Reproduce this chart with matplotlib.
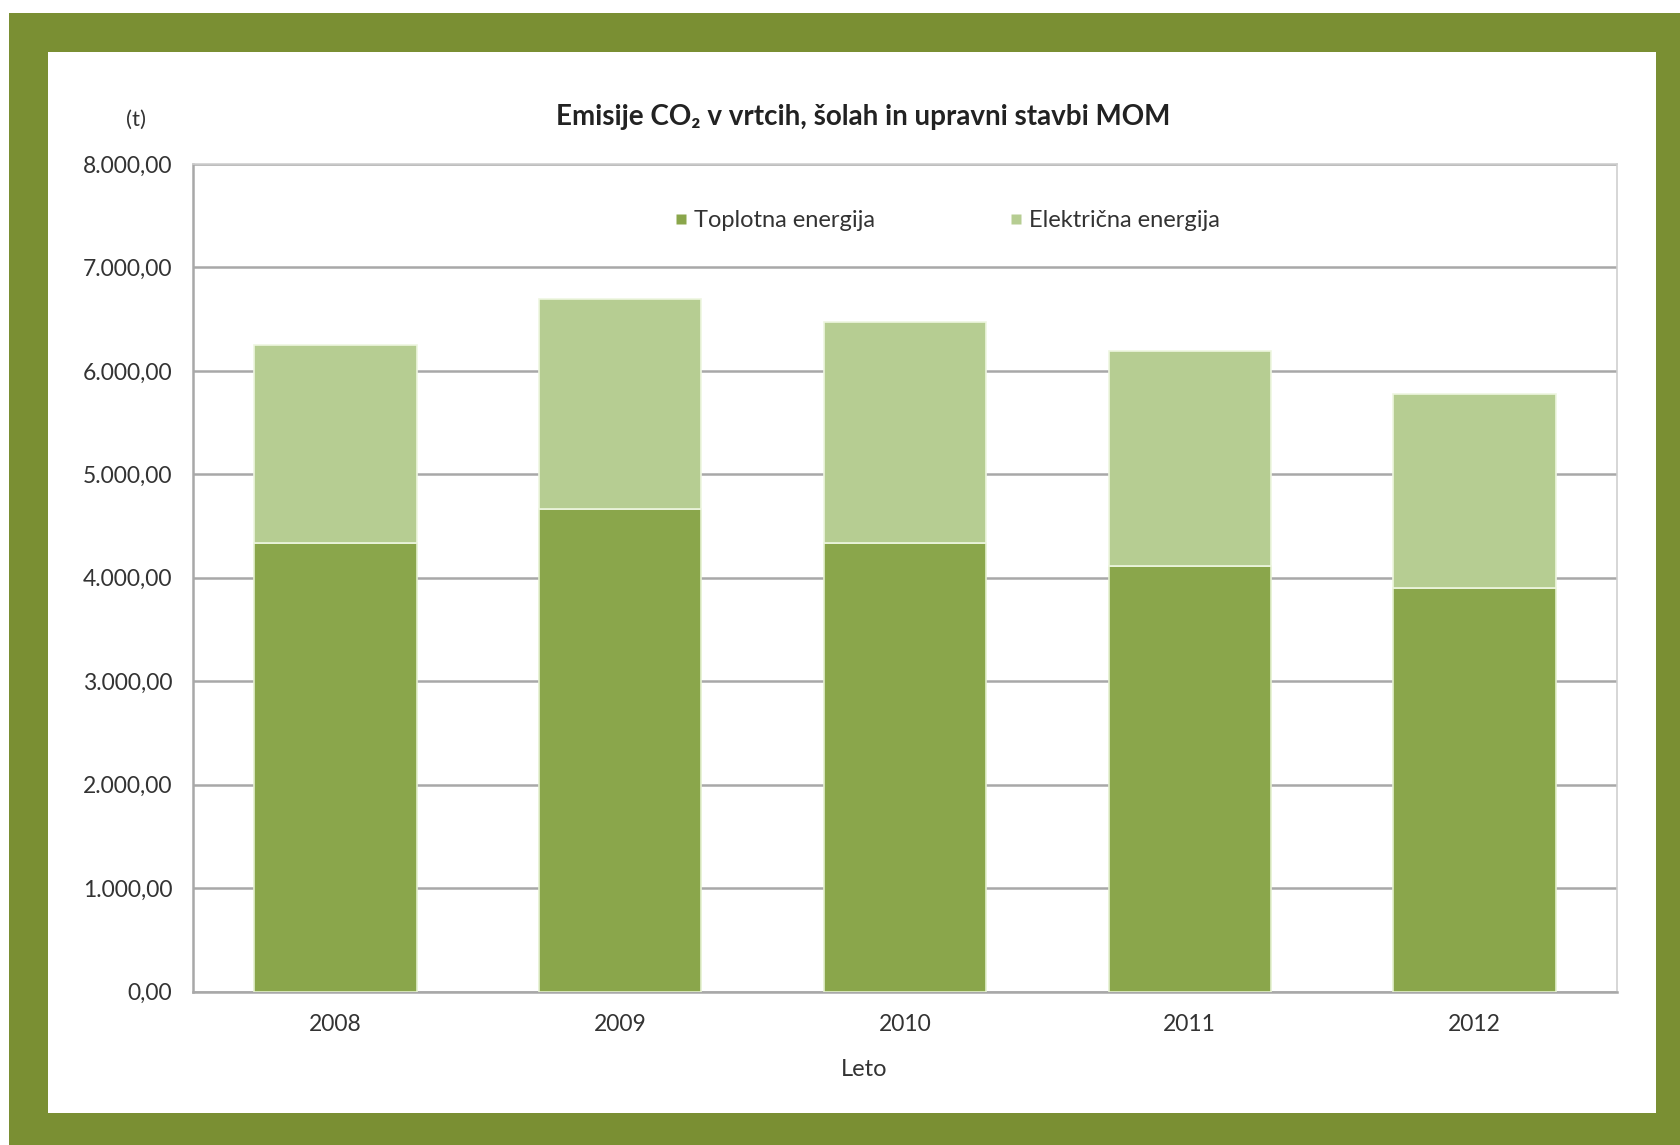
import matplotlib
matplotlib.use("Agg")
import matplotlib.pyplot as plt
from matplotlib.patches import Rectangle
from matplotlib.lines import Line2D
import numpy as np

plt.rcParams['font.family'] = ['Lato', 'DejaVu Sans']

# data (t CO2)
years = ['2008', '2009', '2010', '2011', '2012']
toplotna = [4336, 4665, 4336, 4114, 3904]
elektricna = [1914, 2027, 2140, 2078, 1873]
y_ticks = [0, 1000, 2000, 3000, 4000, 5000, 6000, 7000, 8000]
y_tick_labels = ['0,00', '1.000,00', '2.000,00', '3.000,00', '4.000,00',
                 '5.000,00', '6.000,00', '7.000,00', '8.000,00']

dark = '#8aa64b'
light = '#b6cd92'
frame = '#7a8f33'
grid = '#a8a8a8'
txt = '#333333'

W, H = 1681, 1145
fig = plt.figure(figsize=(W / 100, H / 100), dpi=100)
fig.patch.set_facecolor('white')

# green frame + white panel
fig.patches.append(Rectangle((9 / W, 0), 1, (H - 13) / H, transform=fig.transFigure,
                             facecolor=frame, edgecolor='none', zorder=0))
fig.patches.append(Rectangle((48 / W, (H - 1113) / H), (1656 - 48) / W, (1113 - 52) / H,
                             transform=fig.transFigure, facecolor='white',
                             edgecolor='none', zorder=1))

ax = fig.add_axes([193 / W, 153.4 / H, (1617 - 193) / W, (991.6 - 164) / H])
ax.set_zorder(2)
ax.set_facecolor('white')

x = np.arange(len(years))
w = 0.57
ax.bar(x, toplotna, w, color=dark, edgecolor='#e4f0cf', linewidth=1.2, zorder=3)
ax.bar(x, elektricna, w, bottom=toplotna, color=light, edgecolor='#eef6e0',
       linewidth=1.2, zorder=3)

ax.set_xlim(-0.5, len(years) - 0.5)
ax.set_ylim(0, 8000)
ax.set_yticks(y_ticks)
ax.set_yticklabels(y_tick_labels)
ax.set_xticks(x)
ax.set_xticklabels(years)
ax.tick_params(axis='both', length=0, labelsize=16.5, colors=txt)
ax.tick_params(axis='y', pad=15)
ax.tick_params(axis='x', pad=16)
ax.yaxis.grid(True, color=grid, linewidth=1.8, zorder=0)
ax.set_axisbelow(True)
for s in ['left', 'bottom']:
    ax.spines[s].set_color(grid)
    ax.spines[s].set_linewidth(1.8)
for s in ['right', 'top']:
    ax.spines[s].set_color('#cfcfcf')
    ax.spines[s].set_linewidth(1.2)

fig.text(864 / W, 1 - 1069 / H, 'Leto', ha='center', va='center', fontsize=17,
         color=txt, zorder=5)
fig.text(863 / W, 1 - 117 / H, 'Emisije CO₂ v vrtcih, šolah in upravni stavbi MOM',
         ha='center', va='center', fontsize=20, fontweight='bold', color='#222222',
         zorder=5)
fig.text(136 / W, 1 - 120 / H, '(t)', ha='center', va='center', fontsize=16,
         color=txt, zorder=5)

handles = [Line2D([], [], marker='s', linestyle='none', markersize=7,
                  markerfacecolor=dark, markeredgecolor='none'),
           Line2D([], [], marker='s', linestyle='none', markersize=7,
                  markerfacecolor=light, markeredgecolor='none')]
ax.legend(handles, ['Toplotna energija', 'Električna energija'], ncol=2,
          loc='center', bbox_to_anchor=(0.529, 0.932), frameon=False,
          fontsize=17, columnspacing=5.6, handletextpad=0.2, handlelength=0.7,
          labelcolor=txt)

fig.savefig('out.png', dpi=100)
